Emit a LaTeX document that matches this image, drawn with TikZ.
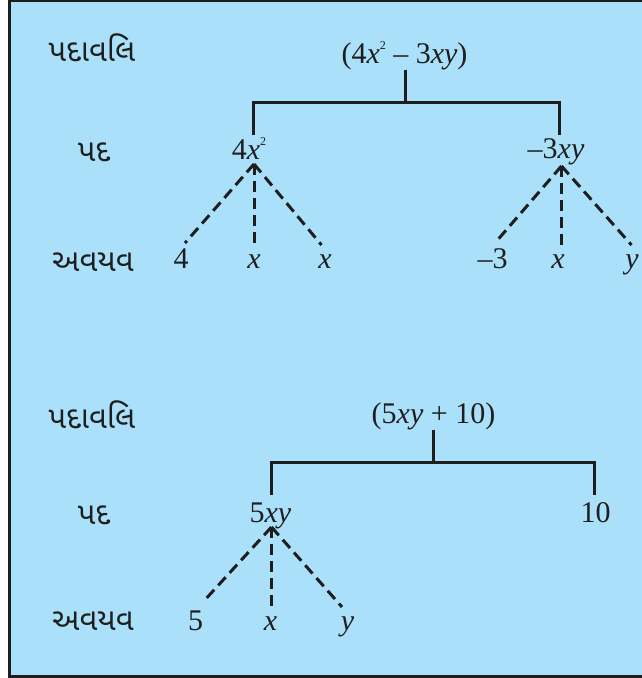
\documentclass[tikz,border=0pt]{standalone}
\usepackage{fontspec}
\setmainfont{Liberation Serif}
\newfontfamily\guj[Script=Gujarati]{Noto Sans Gujarati UI}
\definecolor{bgblue}{RGB}{170,224,250}
\definecolor{ink}{RGB}{30,30,30}
\newcommand\supii{\raisebox{13.5pt}{\fontsize{12}{12}\selectfont 2}}
\begin{document}
\begin{tikzpicture}[x=1pt,y=-1pt,
  lbl/.style={font=\guj\fontsize{31}{36}\selectfont, text=ink, inner sep=0},
  mth/.style={font=\fontsize{30}{35}\selectfont, text=ink, inner sep=0, anchor=base},
  tree/.style={line width=3pt, draw=ink},
  dsh/.style={line width=3pt, draw=ink, dash pattern=on 11pt off 6pt}]
\useasboundingbox (0,0) rectangle (642,678);
\clip (0,0) rectangle (642,678);
\fill[white] (0,0) rectangle (642,678);
\draw[fill=bgblue, draw=ink, line width=3pt] (9.5,0.5) rectangle (660,676.5);

% ---------- first tree ----------
\node[lbl] (hdA) at (92,47.5) {પદાવલિ};
\node[lbl] (pdA) at (94,152) {પદ};
\node[lbl] (avA) at (93,262) {અવયવ};

\node[mth] (exA) at (404.5,63) {(4\textit{x}\supii{} – 3\textit{xy})};
\node[mth] (tA1) at (249,159) {4\textit{x}\supii};
\node[mth] (tA2) at (556,158) {–3\textit{xy}};
\node[mth] (fA1) at (181,268) {4};
\node[mth] (fA2) at (254,268) {\textit{x}};
\node[mth] (fA3) at (325,268) {\textit{x}};
\node[mth] (fA4) at (492.5,268) {–3};
\node[mth] (fA5) at (558,268) {\textit{x}};
\node[mth] (fA6) at (632,268) {\textit{y}};

\coordinate (jA) at (405,102);
\coordinate (lA) at (253,102);
\coordinate (rA) at (559,102);
\coordinate (lAe) at (253,135);
\coordinate (rAe) at (559,135);
\draw[tree] (exA.south -| jA) -- (jA);
\draw[tree] (lAe) -- (lA) -- (rA) -- (rAe);

\coordinate (apA1) at (254,164);
\coordinate (eA1) at (185,243);
\coordinate (eA2) at (254,247);
\coordinate (eA3) at (321.5,245);
\draw[dsh] (apA1) -- (eA1);
\draw[dsh] (apA1) -- (eA2);
\draw[dsh] (apA1) -- (eA3);

\coordinate (apA2) at (561.5,166);
\coordinate (eA4) at (495,243);
\coordinate (eA5) at (561.5,247);
\coordinate (eA6) at (631.5,245);
\draw[dsh] (apA2) -- (eA4);
\draw[dsh] (apA2) -- (eA5);
\draw[dsh] (apA2) -- (eA6);

% ---------- second tree ----------
\node[lbl] (hdB) at (92,415) {પદાવલિ};
\node[lbl] (pdB) at (94,515) {પદ};
\node[lbl] (avB) at (93,621) {અવયવ};

\node[mth] (exB) at (433.5,423) {(5\textit{xy} + 10)};
\node[mth] (tB1) at (270.5,522) {5\textit{xy}};
\node[mth] (tB2) at (595.5,522) {10};
\node[mth] (fB1) at (195.5,630) {5};
\node[mth] (fB2) at (270.5,630) {\textit{x}};
\node[mth] (fB3) at (347.5,630) {\textit{y}};

\coordinate (jB) at (433.5,462);
\coordinate (lB) at (271.5,462);
\coordinate (rB) at (594,462);
\coordinate (lBe) at (271.5,495);
\coordinate (rBe) at (594,495);
\draw[tree] (exB.south -| jB) -- (jB);
\draw[tree] (lBe) -- (lB) -- (rB) -- (rBe);

\coordinate (apB1) at (271.5,527);
\coordinate (eB1) at (203,602);
\coordinate (eB2) at (271.5,610);
\coordinate (eB3) at (342,607);
\draw[dsh] (apB1) -- (eB1);
\draw[dsh] (apB1) -- (eB2);
\draw[dsh] (apB1) -- (eB3);
\end{tikzpicture}
\end{document}
